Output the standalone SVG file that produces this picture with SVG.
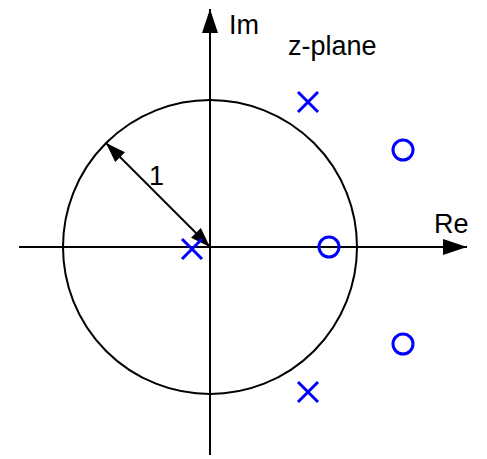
<svg xmlns="http://www.w3.org/2000/svg" width="487" height="459" viewBox="0 0 487 459">
<style>
.ax{stroke:#000;stroke-width:2;fill:none}
.pz{stroke:#0000ff;stroke-width:3;fill:none}
.t{font-family:"Liberation Sans",Arial,sans-serif;font-size:27px;fill:#000}
</style>
<defs>
<marker id="ah" viewBox="0 0 20 14" refX="20" refY="7" markerWidth="20" markerHeight="14" markerUnits="userSpaceOnUse" orient="auto-start-reverse">
<path d="M0,0 L20,7 L0,14 Z" fill="#000"/>
</marker>
<marker id="axh" viewBox="0 0 24 16" refX="24" refY="8" markerWidth="24" markerHeight="16" markerUnits="userSpaceOnUse" orient="auto">
<path d="M0,0 L24,8 L0,16 Z" fill="#000"/>
</marker>
</defs>
<g id="connectors">
<line class="ax" x1="19" y1="247" x2="467" y2="247" marker-end="url(#axh)"/>
<line class="ax" x1="210" y1="455" x2="210" y2="9" marker-end="url(#axh)"/>
<circle class="ax" cx="210" cy="247" r="147"/>
<line class="ax" x1="106" y1="143" x2="210" y2="247" marker-start="url(#ah)" marker-end="url(#ah)"/>
</g>
<g id="labels">
<text class="t" x="229" y="34">Im</text>
<text class="t" x="288" y="55">z-plane</text>
<text class="t" x="434" y="233">Re</text>
<text class="t" x="149" y="185">1</text>
</g>
<g id="pole1"><path class="pz" d="M298,92 L318,112 M318,92 L298,112"/></g>
<g id="pole0"><path class="pz" d="M182,239 L202,259 M202,239 L182,259"/></g>
<g id="pole2"><path class="pz" d="M298,382 L318,402 M318,382 L298,402"/></g>
<g id="zero1"><circle class="pz" cx="403" cy="150" r="10"/></g>
<g id="zero0"><circle class="pz" cx="329" cy="247" r="10"/></g>
<g id="zero2"><circle class="pz" cx="403" cy="344" r="10"/></g>
</svg>
